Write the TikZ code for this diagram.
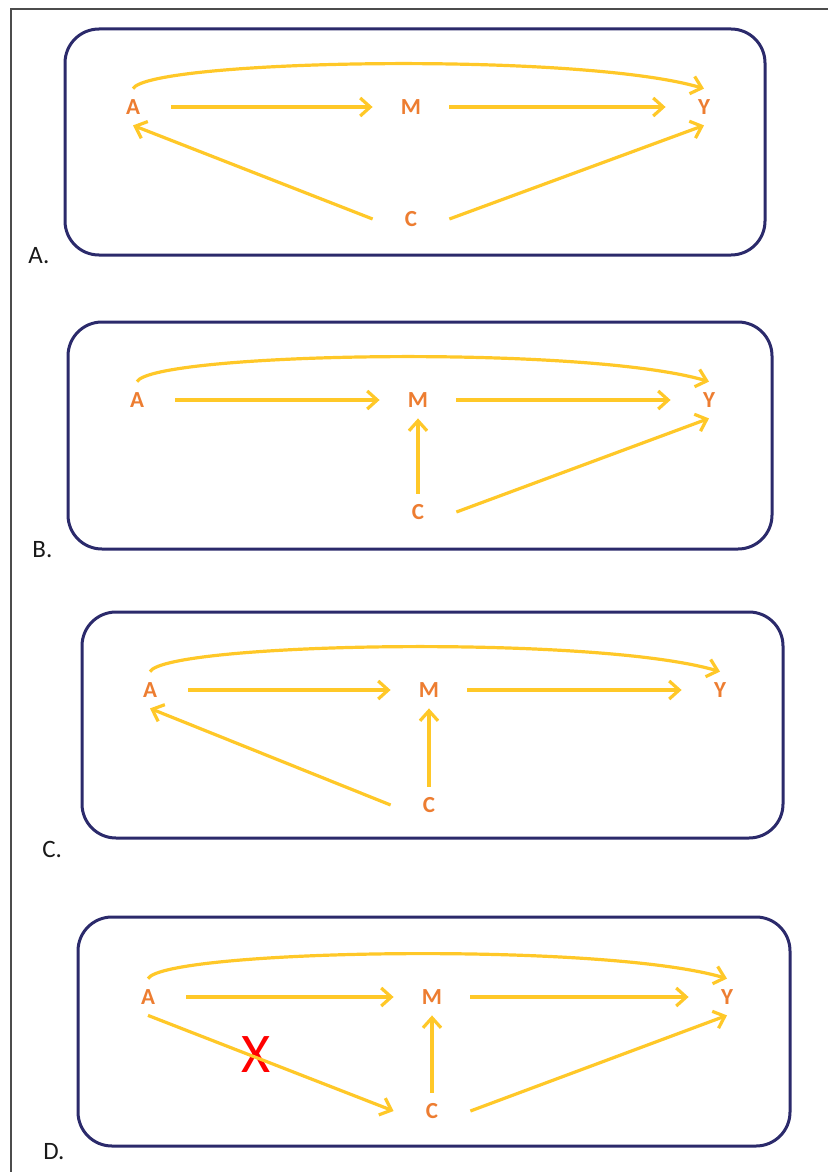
\documentclass[tikz,border=0pt]{standalone}
\usepackage{fontspec}
\setmainfont{Carlito}
\usepackage{tikz}
\usetikzlibrary{arrows.meta}

\definecolor{arrowyellow}{RGB}{255,200,40}
\definecolor{labelorange}{RGB}{237,125,49}
\definecolor{boxnavy}{RGB}{43,42,107}

\begin{document}
\begin{tikzpicture}[
	x=0.5pt, y=-0.5pt,
	varnode/.style={rectangle, inner sep=0pt, minimum width=38pt, minimum height=18pt, text=labelorange, font=\fontsize{11.5}{13}\selectfont\bfseries},
	panelbox/.style={draw=boxnavy, line width=1.5pt, rounded corners=17pt, fill=white},
	panellabel/.style={anchor=base west, inner sep=0pt, text=black!90, font=\fontsize{12.5}{15}\selectfont},
	arr/.style={draw=arrowyellow, line width=1.6pt, -{Straight Barb[length=5pt,width=9pt]}},
	]
	\useasboundingbox (0,0) rectangle (828,1172);
	\draw[black!70, line width=1pt] (828,9) -- (11,9) -- (11,1172);
	
	%Boxes
	\draw[panelbox] (65,29) rectangle (765,255);
	\draw[panelbox] (68,322) rectangle (772,549);
	\draw[panelbox] (82,612) rectangle (783,838);
	\draw[panelbox] (78,917) rectangle (790,1146);
	\node[panellabel] (la) at (28,263) {A.};
	\node[panellabel] (lb) at (32,557) {B.};
	\node[panellabel] (lc) at (42,857) {C.};
	\node[panellabel] (ld) at (43,1159) {D.};
	
	%Nodes A
	\node[varnode] (a1) at (133,107) {A};
	\node[varnode] (m1) at (411,107) {M};
	\node[varnode] (y1) at (704,107) {Y};
	\node[varnode] (c1) at (411,219) {C};
	
	%Nodes B
	\node[varnode] (a2) at (137,400) {A};
	\node[varnode] (m2) at (418,400) {M};
	\node[varnode] (y2) at (709,400) {Y};
	\node[varnode] (c2) at (418,512) {C};
	
	%Nodes C
	\node[varnode] (a3) at (150,690) {A};
	\node[varnode] (m3) at (429,690) {M};
	\node[varnode] (y3) at (720,690) {Y};
	\node[varnode] (c3) at (429,805) {C};
	
	%Nodes D
	\node[varnode] (a4) at (148,997) {A};
	\node[varnode] (m4) at (432,997) {M};
	\node[varnode] (y4) at (727,997) {Y};
	\node[varnode] (c4) at (432,1111) {C};
	\node[text=red, inner sep=0pt, font=\fontsize{28}{30}\selectfont] (cross) at (256,1055) {X};
	
	%Lines A
	\draw[arr] (a1.north) .. controls +(17,-29) and +(-125,-37) .. (y1.north);
	\draw[arr] (a1.east) -- (m1.west);
	\draw[arr] (m1.east) -- (y1.west);
	\draw[arr] (c1.west) -- (a1.south);
	\draw[arr] (c1.east) -- (y1.south);
	
	%Lines B
	\draw[arr] (a2.north) .. controls +(17,-29) and +(-125,-37) .. (y2.north);
	\draw[arr] (a2.east) -- (m2.west);
	\draw[arr] (m2.east) -- (y2.west);
	\draw[arr] (c2.north) -- (m2.south);
	\draw[arr] (c2.east) -- (y2.south);
	
	%Lines C
	\draw[arr] (a3.north) .. controls +(17,-29) and +(-125,-37) .. (y3.north);
	\draw[arr] (a3.east) -- (m3.west);
	\draw[arr] (m3.east) -- (y3.west);
	\draw[arr] (c3.north) -- (m3.south);
	\draw[arr] (c3.west) -- (a3.south);
	
	%Lines D
	\draw[arr] (a4.north) .. controls +(17,-29) and +(-125,-37) .. (y4.north);
	\draw[arr] (a4.east) -- (m4.west);
	\draw[arr] (m4.east) -- (y4.west);
	\draw[arr] (c4.north) -- (m4.south);
	\draw[arr] (a4.south) -- (c4.west);
	\draw[arr] (c4.east) -- (y4.south);
\end{tikzpicture}
\end{document}
